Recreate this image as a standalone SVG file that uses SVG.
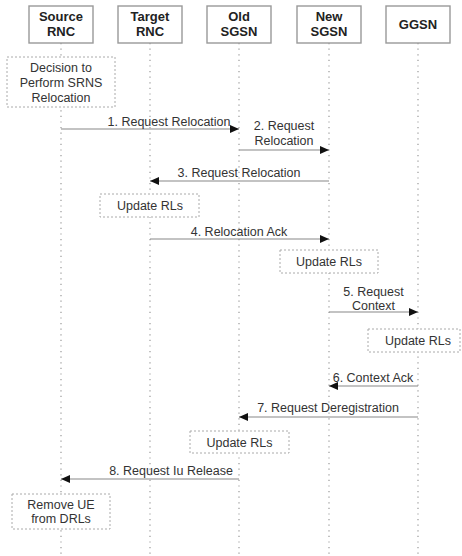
<svg xmlns="http://www.w3.org/2000/svg" width="462" height="556" viewBox="0 0 462 556">
<defs>
<marker id="ah" markerWidth="9" markerHeight="8" refX="9" refY="4" orient="auto" markerUnits="userSpaceOnUse">
<path d="M0,0 L9,4 L0,8 Z" fill="#111"/>
</marker>
<style>
.hdr{fill:#fff;stroke:#999;stroke-width:1.4}
.ht{font-family:"Liberation Sans",Arial,sans-serif;font-size:13px;font-weight:bold;fill:#222;text-anchor:middle}
.life{stroke:#999;stroke-width:1.2;stroke-dasharray:1.2 4.4;fill:none}
.msg{stroke:#888;stroke-width:1.2;fill:none;marker-end:url(#ah)}
.t{font-family:"Liberation Sans",Arial,sans-serif;font-size:12.5px;fill:#333;text-anchor:middle}
.act{fill:#fff;stroke:#aaa;stroke-width:1;stroke-dasharray:2 2}
</style>
</defs>
<rect width="462" height="556" fill="#fff"/>
<g id="lifelines">
<line class="life" x1="61" y1="43" x2="61" y2="556"/>
<line class="life" x1="150" y1="43" x2="150" y2="556"/>
<line class="life" x1="239" y1="43" x2="239" y2="556"/>
<line class="life" x1="329" y1="43" x2="329" y2="556"/>
<line class="life" x1="418" y1="43" x2="418" y2="556"/>
</g>
<g id="source-rnc"><rect class="hdr" x="29" y="6" width="64" height="37"/><text class="ht" x="61" y="21">Source</text><text class="ht" x="61" y="36">RNC</text></g>
<g id="target-rnc"><rect class="hdr" x="118" y="6" width="64" height="37"/><text class="ht" x="150" y="21">Target</text><text class="ht" x="150" y="36">RNC</text></g>
<g id="old-sgsn"><rect class="hdr" x="207" y="6" width="64" height="37"/><text class="ht" x="239" y="21">Old</text><text class="ht" x="239" y="36">SGSN</text></g>
<g id="new-sgsn"><rect class="hdr" x="297" y="6" width="64" height="37"/><text class="ht" x="329" y="21">New</text><text class="ht" x="329" y="36">SGSN</text></g>
<g id="ggsn"><rect class="hdr" x="386" y="6" width="64" height="37"/><text class="ht" x="418" y="29">GGSN</text></g>
<g id="decision"><rect class="act" x="7" y="57" width="108" height="50"/><text class="t" x="61" y="71.5">Decision to</text><text class="t" x="61" y="86.5">Perform SRNS</text><text class="t" x="61" y="101.5">Relocation</text></g>
<g id="update-target"><rect class="act" x="100" y="194" width="99" height="23"/><text class="t" x="150" y="210">Update RLs</text></g>
<g id="update-new"><rect class="act" x="280" y="250" width="98" height="23"/><text class="t" x="329" y="266">Update RLs</text></g>
<g id="update-ggsn"><rect class="act" x="368" y="329" width="92" height="23"/><text class="t" x="418" y="345">Update RLs</text></g>
<g id="update-old"><rect class="act" x="190" y="431" width="99" height="22"/><text class="t" x="239.5" y="446.5">Update RLs</text></g>
<g id="remove-ue"><rect class="act" x="12" y="494" width="98" height="35"/><text class="t" x="61" y="508.5">Remove UE</text><text class="t" x="61" y="522.5">from DRLs</text></g>
<g id="connectors">
<line class="msg" x1="61" y1="129" x2="239" y2="129"/>
<text class="t" x="169" y="126">1. Request Relocation</text>
<line class="msg" x1="239" y1="150" x2="329" y2="150"/>
<text class="t" x="284" y="130">2. Request</text>
<text class="t" x="284" y="145">Relocation</text>
<line class="msg" x1="329" y1="181" x2="150" y2="181"/>
<text class="t" x="239" y="177">3. Request Relocation</text>
<line class="msg" x1="150" y1="239" x2="329" y2="239"/>
<text class="t" x="239" y="236">4. Relocation Ack</text>
<line class="msg" x1="329" y1="312" x2="418" y2="312"/>
<text class="t" x="373.5" y="295.5">5. Request</text>
<text class="t" x="373.5" y="309.5">Context</text>
<line class="msg" x1="418" y1="386" x2="329" y2="386"/>
<text class="t" x="373" y="381.5">6. Context Ack</text>
<line class="msg" x1="418" y1="417" x2="239" y2="417"/>
<text class="t" x="328" y="411.5">7. Request Deregistration</text>
<line class="msg" x1="239" y1="479" x2="61" y2="479"/>
<text class="t" x="171" y="474.5">8. Request Iu Release</text>
</g>
</svg>
